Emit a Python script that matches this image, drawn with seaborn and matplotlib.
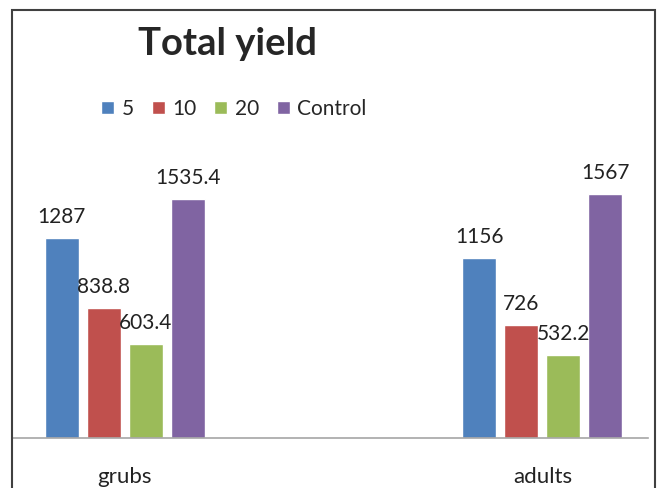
import pandas as pd
import seaborn as sns
import matplotlib.pyplot as plt
from matplotlib.patches import Rectangle

# data
stages = ['grubs', 'adults']
concentrations = ['5', '10', '20', 'Control']
yield_grubs = [1287, 838.8, 603.4, 1535.4]
yield_adults = [1156, 726, 532.2, 1567]
colors = ['#4F81BD', '#C0504D', '#9BBB59', '#8064A2']

rows = []
for stage, vals in zip(stages, [yield_grubs, yield_adults]):
    for conc, v in zip(concentrations, vals):
        rows.append({'stage': stage, 'conc': conc, 'yield': v})
df = pd.DataFrame(rows)

sns.set_style('white')
plt.rcParams['font.family'] = ['Lato', 'DejaVu Sans']

W, H = 660, 488
fig = plt.figure(figsize=(W / 100, H / 100), dpi=100)

ymax = 1800
px_per_unit = 0.1554
ax = fig.add_axes([13 / W, 50 / H, 635 / W, ymax * px_per_unit / H])

sns.barplot(data=df, x='stage', y='yield', hue='conc', order=stages,
            hue_order=concentrations, palette=colors, width=0.402, gap=0.19,
            saturation=1, ax=ax, legend=True)

for c in ax.containers:
    ax.bar_label(c, labels=[f'{v:g}' for v in c.datavalues], padding=8,
                 fontsize=15, color='#222222')

ax.set_xlim(-0.268, 1.253)
ax.set_ylim(0, ymax)
ax.set_xlabel('')
ax.set_ylabel('')
ax.set_yticks([])
for s in ['top', 'left', 'right']:
    ax.spines[s].set_visible(False)
ax.spines['bottom'].set_color('#a6a6a6')
ax.spines['bottom'].set_linewidth(1.2)
ax.tick_params(axis='x', length=0, pad=21, labelsize=16, labelcolor='#222222')

handles, labels = ax.get_legend_handles_labels()
ax.get_legend().remove()
fig.legend(handles, labels, loc='center', bbox_to_anchor=(234 / W, 1 - 109 / H),
           ncol=4, frameon=False, fontsize=15, handlelength=0.62, handleheight=0.62,
           handletextpad=0.37, columnspacing=0.85)

fig.text(227.5 / W, 1 - 55 / H, 'Total yield', ha='center', va='baseline',
         fontsize=27.5, fontweight='bold')

# outer frame
fig.add_artist(Rectangle((12 / W, -0.1), (655 - 12) / W, 1.1 - 10 / H,
                         transform=fig.transFigure, fill=False,
                         edgecolor='#404040', linewidth=1.5))

fig.savefig('out.png', dpi=100)
